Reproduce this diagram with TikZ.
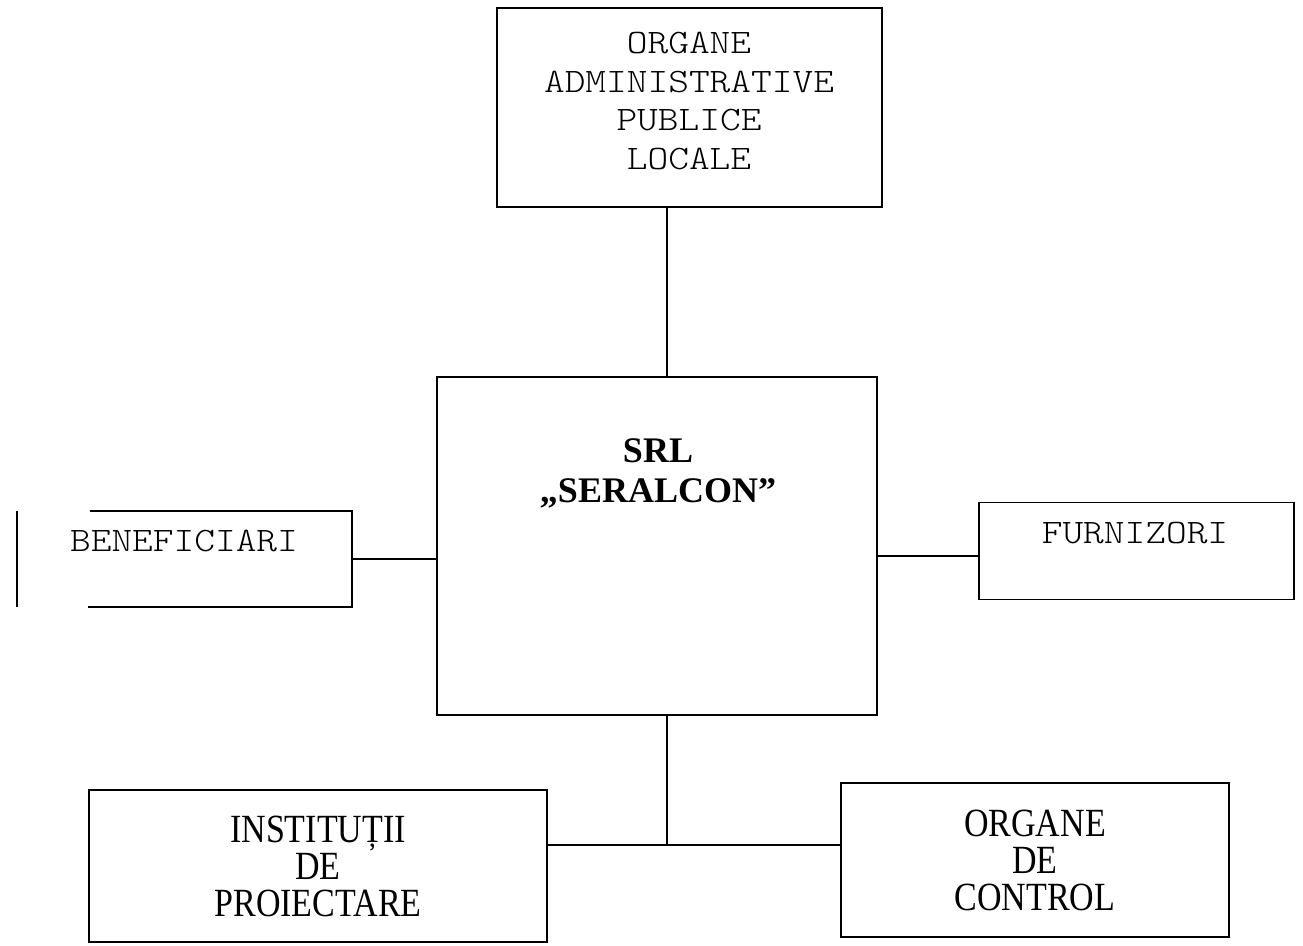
\documentclass[tikz,border=0pt]{standalone}
\usepackage{fontspec}
\setmainfont{Liberation Serif}
\newfontfamily\courfont[FakeStretch=1.15]{lmmonolt10-regular.otf}
\newfontfamily\narrowserif[FakeStretch=0.85]{Liberation Serif}
\usetikzlibrary{calc}
\begin{document}
\begin{tikzpicture}[x=1pt,y=-1pt,
  box/.style={draw,line width=1.6pt,inner sep=0pt},
  frame/.style={inner sep=0pt},
  link/.style={line width=1.6pt},
  mono/.style={font=\courfont\fontsize{34.3}{38.7}\selectfont,align=center,inner sep=0pt},
  serif/.style={font=\narrowserif\fontsize{40}{37}\selectfont,align=center},
  boldt/.style={font=\bfseries\fontsize{36}{40}\selectfont,align=center,inner sep=0pt}]
\useasboundingbox (0,0) rectangle (1303,945);
% boxes
\node[box,minimum width=385pt,minimum height=199pt] (adm) at (689.5,107.5) {};
\node[box,minimum width=440pt,minimum height=338pt] (srl) at (657,546) {};
\node[frame,minimum width=335pt,minimum height=96pt] (ben) at (184.5,559) {};
\node[box,minimum width=315pt,minimum height=97pt] (fur) at (1136.5,551) {};
\node[box,serif,minimum width=458pt,minimum height=152pt] (inst) at (318,866) {INSTITUȚII\\DE\\PROIECTARE};
\node[box,serif,minimum width=388pt,minimum height=154pt] (ctrl) at (1035,860) {ORGANE\\DE\\CONTROL};
% texts
\node[mono] (admtext) at (689,101) {ORGANE\\ADMINISTRATIVE\\PUBLICE\\LOCALE};
\node[boldt] (srltext) at (658,473) {SRL\\„SERALCON”};
\node[mono] (bentext) at (184,541) {BENEFICIARI};
\node[mono] (furtext) at (1135,533) {FURNIZORI};
% beneficiari frame (broken)
\draw[link] ($(ben.north west)+(73,0)$) -- (ben.north east) -- (ben.south east) -- ($(ben.south west)+(71,0)$);
\draw[link] (ben.north west) -- (ben.south west);
% connectors
\coordinate (vx) at (667,0);
\coordinate (fc) at (0,556);
\coordinate (j) at (667,845);
\draw[link] (adm.south -| vx) -- (srl.north -| vx);
\draw[link] (ben.east) -- (ben.east -| srl.west);
\draw[link] (srl.east |- fc) -- (fur.west |- fc);
\draw[link] (srl.south -| j) -- (j);
\draw[link] (inst.east |- j) -- (ctrl.west |- j);
\end{tikzpicture}
\end{document}
